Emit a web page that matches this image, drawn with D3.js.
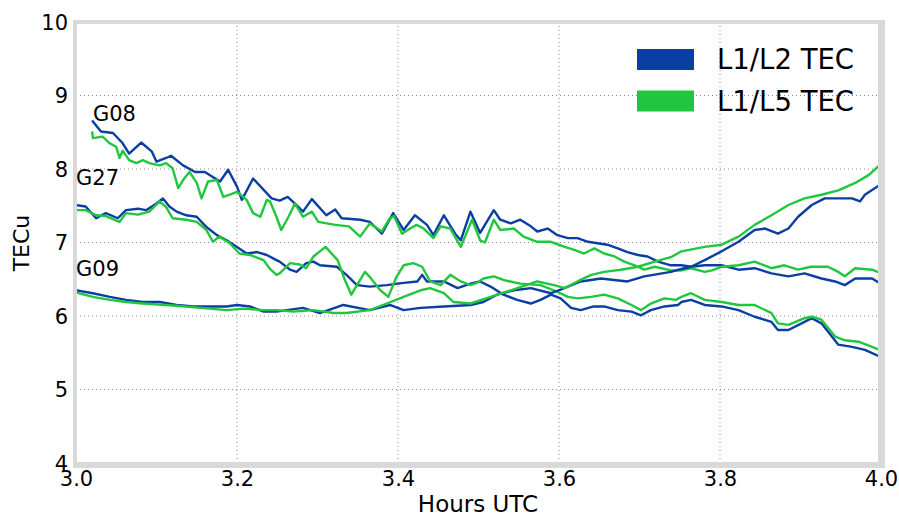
<!DOCTYPE html>
<html>
<head>
<meta charset="utf-8">
<script src="https://cdn.jsdelivr.net/npm/d3@7"></script>
<style>
  body { margin: 0; background: #fff; }
  svg { display: block; font-family: "DejaVu Sans", sans-serif; }
</style>
</head>
<body>
<div id="chart"></div>
<script>
// values: [hours UTC, TECu]
var g08L2 = [[3.020,8.66],[3.031,8.51],[3.046,8.49],[3.058,8.35],[3.066,8.21],[3.081,8.36],[3.094,8.24],[3.100,8.10],[3.112,8.15],[3.118,8.18],[3.133,8.05],[3.148,7.96],[3.160,7.96],[3.179,7.83],[3.189,7.99],[3.200,7.76],[3.206,7.58],[3.220,7.87],[3.243,7.60],[3.253,7.57],[3.263,7.62],[3.272,7.53],[3.282,7.42],[3.293,7.59],[3.311,7.37],[3.322,7.45],[3.330,7.33],[3.353,7.31],[3.365,7.28],[3.380,7.12],[3.394,7.40],[3.407,7.17],[3.421,7.37],[3.436,7.24],[3.444,7.10],[3.457,7.37],[3.471,7.12],[3.478,7.03],[3.490,7.42],[3.502,7.13],[3.519,7.44],[3.527,7.31],[3.540,7.26],[3.552,7.31],[3.565,7.22],[3.573,7.15],[3.586,7.19],[3.598,7.10],[3.611,7.06],[3.623,7.06],[3.636,7.01],[3.648,6.99],[3.660,6.97],[3.673,6.92],[3.685,6.87],[3.698,6.83],[3.710,6.81],[3.723,6.74],[3.739,6.69],[3.752,6.69],[3.764,6.67],[3.781,6.69],[3.802,6.69],[3.823,6.63],[3.843,6.65],[3.864,6.58],[3.885,6.54],[3.905,6.58],[3.926,6.51],[3.943,6.47],[3.955,6.42],[3.968,6.51],[3.989,6.51],[3.998,6.45]];
var g08L5 = [[3.020,8.51],[3.021,8.42],[3.033,8.44],[3.042,8.35],[3.050,8.30],[3.054,8.15],[3.058,8.25],[3.066,8.12],[3.075,8.08],[3.083,8.12],[3.091,8.08],[3.104,8.05],[3.112,8.08],[3.120,8.01],[3.127,7.74],[3.133,7.85],[3.141,7.96],[3.150,7.81],[3.156,7.60],[3.164,7.83],[3.175,7.85],[3.183,7.62],[3.191,7.65],[3.200,7.69],[3.212,7.58],[3.220,7.40],[3.229,7.35],[3.237,7.58],[3.241,7.56],[3.249,7.35],[3.255,7.17],[3.264,7.35],[3.272,7.53],[3.282,7.35],[3.293,7.42],[3.301,7.28],[3.322,7.24],[3.339,7.22],[3.353,7.08],[3.365,7.26],[3.380,7.15],[3.390,7.33],[3.395,7.36],[3.405,7.12],[3.415,7.19],[3.423,7.24],[3.432,7.19],[3.444,7.06],[3.453,7.22],[3.465,7.19],[3.478,6.94],[3.492,7.31],[3.502,7.03],[3.508,7.00],[3.519,7.31],[3.527,7.17],[3.544,7.19],[3.556,7.08],[3.573,7.01],[3.590,7.01],[3.607,6.94],[3.619,6.90],[3.631,6.85],[3.644,6.92],[3.656,6.85],[3.669,6.81],[3.681,6.74],[3.694,6.69],[3.706,6.63],[3.719,6.67],[3.739,6.62],[3.752,6.62],[3.764,6.65],[3.781,6.60],[3.790,6.62],[3.802,6.67],[3.823,6.69],[3.843,6.74],[3.864,6.65],[3.880,6.69],[3.897,6.63],[3.913,6.67],[3.934,6.67],[3.947,6.60],[3.955,6.54],[3.968,6.65],[3.989,6.63],[3.998,6.59]];
var g27L2 = [[3.000,7.51],[3.012,7.49],[3.025,7.33],[3.037,7.40],[3.052,7.33],[3.062,7.44],[3.077,7.46],[3.087,7.44],[3.100,7.53],[3.108,7.60],[3.116,7.49],[3.125,7.42],[3.137,7.37],[3.150,7.35],[3.162,7.21],[3.175,7.10],[3.187,7.03],[3.200,6.94],[3.212,6.85],[3.225,6.87],[3.237,6.83],[3.249,6.76],[3.253,6.74],[3.266,6.63],[3.274,6.60],[3.286,6.72],[3.295,6.74],[3.303,6.69],[3.324,6.67],[3.336,6.56],[3.349,6.42],[3.365,6.40],[3.386,6.42],[3.407,6.45],[3.424,6.47],[3.430,6.56],[3.436,6.47],[3.457,6.47],[3.474,6.38],[3.490,6.44],[3.502,6.47],[3.515,6.40],[3.531,6.29],[3.548,6.22],[3.565,6.17],[3.577,6.22],[3.590,6.29],[3.602,6.24],[3.615,6.11],[3.627,6.08],[3.643,6.13],[3.656,6.13],[3.673,6.08],[3.690,6.06],[3.702,6.01],[3.714,6.08],[3.731,6.13],[3.748,6.15],[3.752,6.19],[3.764,6.22],[3.781,6.15],[3.802,6.13],[3.823,6.08],[3.843,5.99],[3.864,5.92],[3.872,5.81],[3.885,5.81],[3.905,5.92],[3.914,5.97],[3.926,5.90],[3.939,5.72],[3.947,5.61],[3.964,5.58],[3.980,5.54],[3.998,5.45]];
var g27L5 = [[3.000,7.44],[3.012,7.44],[3.025,7.37],[3.037,7.36],[3.054,7.28],[3.062,7.40],[3.077,7.38],[3.091,7.42],[3.104,7.56],[3.112,7.48],[3.120,7.33],[3.137,7.31],[3.150,7.28],[3.162,7.17],[3.170,7.01],[3.178,7.08],[3.191,6.99],[3.203,6.85],[3.216,6.83],[3.233,6.76],[3.241,6.64],[3.249,6.56],[3.253,6.58],[3.266,6.72],[3.278,6.70],[3.286,6.65],[3.295,6.81],[3.310,6.94],[3.325,6.76],[3.334,6.49],[3.342,6.29],[3.353,6.49],[3.359,6.60],[3.365,6.53],[3.378,6.35],[3.388,6.26],[3.398,6.53],[3.407,6.69],[3.419,6.72],[3.430,6.67],[3.440,6.47],[3.453,6.42],[3.465,6.56],[3.478,6.47],[3.490,6.42],[3.498,6.45],[3.506,6.51],[3.519,6.54],[3.531,6.49],[3.552,6.44],[3.577,6.42],[3.598,6.33],[3.611,6.26],[3.623,6.24],[3.640,6.26],[3.656,6.29],[3.673,6.24],[3.690,6.15],[3.702,6.08],[3.714,6.17],[3.731,6.24],[3.745,6.22],[3.752,6.26],[3.764,6.31],[3.781,6.22],[3.802,6.19],[3.823,6.15],[3.843,6.15],[3.864,6.04],[3.872,5.90],[3.885,5.88],[3.905,5.97],[3.914,5.99],[3.926,5.95],[3.943,5.72],[3.955,5.67],[3.972,5.65],[3.989,5.58],[3.998,5.54]];
var g09L2 = [[3.000,6.35],[3.021,6.31],[3.042,6.26],[3.062,6.22],[3.083,6.19],[3.104,6.19],[3.125,6.15],[3.146,6.13],[3.187,6.13],[3.200,6.15],[3.216,6.13],[3.233,6.06],[3.249,6.06],[3.282,6.11],[3.303,6.04],[3.332,6.15],[3.365,6.08],[3.390,6.15],[3.407,6.08],[3.428,6.11],[3.457,6.13],[3.490,6.15],[3.506,6.19],[3.523,6.29],[3.544,6.35],[3.565,6.38],[3.590,6.31],[3.602,6.36],[3.627,6.47],[3.652,6.51],[3.685,6.47],[3.706,6.54],[3.739,6.60],[3.752,6.64],[3.764,6.67],[3.781,6.76],[3.802,6.88],[3.823,7.01],[3.843,7.17],[3.856,7.19],[3.872,7.12],[3.885,7.19],[3.897,7.35],[3.914,7.51],[3.930,7.60],[3.947,7.60],[3.964,7.60],[3.974,7.56],[3.980,7.65],[3.998,7.78]];
var g09L5 = [[3.000,6.32],[3.021,6.26],[3.042,6.22],[3.062,6.19],[3.083,6.17],[3.125,6.14],[3.166,6.10],[3.187,6.08],[3.208,6.10],[3.233,6.08],[3.249,6.08],[3.270,6.06],[3.295,6.08],[3.320,6.04],[3.336,6.04],[3.365,6.08],[3.386,6.17],[3.407,6.26],[3.428,6.35],[3.440,6.38],[3.457,6.31],[3.469,6.19],[3.490,6.17],[3.515,6.26],[3.540,6.35],[3.573,6.47],[3.594,6.42],[3.607,6.38],[3.623,6.47],[3.640,6.56],[3.656,6.60],[3.677,6.63],[3.698,6.67],[3.719,6.74],[3.739,6.80],[3.752,6.88],[3.781,6.94],[3.802,6.97],[3.823,7.08],[3.843,7.24],[3.864,7.37],[3.885,7.51],[3.905,7.60],[3.926,7.65],[3.947,7.71],[3.968,7.81],[3.985,7.92],[3.998,8.05]];

var xTicks = [3.0, 3.2, 3.4, 3.6, 3.8, 4.0];
var yTicks = [4, 5, 6, 7, 8, 9, 10];
var satLabels = [
  {name: 'G08', x: 3.021, y: 8.65},
  {name: 'G27', x: 3.0, y: 7.78},
  {name: 'G09', x: 3.0, y: 6.55}
];
var legendNames = ['L1/L2 TEC', 'L1/L5 TEC'];

var blue = '#0b3ea3';
var green = '#20c73e';

var width = 899,
    height = 517;

var svg = d3.select('#chart')
  .append('svg')
    .attr('width', width)
    .attr('height', height);

var x = d3.scaleLinear().domain([3, 4]).range([76, 881]);
var y = d3.scaleLinear().domain([4, 10]).range([463, 22]);

// grey frame round the plot area
svg.append('rect')
  .attr('x', 73).attr('y', 20)
  .attr('width', 812).attr('height', 448)
  .attr('fill', '#d9d9d9');
svg.append('rect')
  .attr('x', 77).attr('y', 24)
  .attr('width', 801).attr('height', 438)
  .attr('fill', '#fff');

svg.append('clipPath').attr('id', 'plot-clip')
  .append('rect')
    .attr('x', 77).attr('y', 24)
    .attr('width', 801).attr('height', 438);

// dotted grid
var grid = svg.append('g').attr('clip-path', 'url(#plot-clip)');
grid.selectAll('line.vx')
  .data(xTicks)
  .enter().append('line')
    .attr('x1', function(d) { return x(d); })
    .attr('x2', function(d) { return x(d); })
    .attr('y1', y(10)).attr('y2', y(4))
    .attr('stroke', '#8a8a8a')
    .attr('stroke-width', 1)
    .attr('stroke-dasharray', '1,3');
grid.selectAll('line.hy')
  .data(yTicks)
  .enter().append('line')
    .attr('y1', function(d) { return y(d); })
    .attr('y2', function(d) { return y(d); })
    .attr('x1', x(3)).attr('x2', x(4))
    .attr('stroke', '#8a8a8a')
    .attr('stroke-width', 1)
    .attr('stroke-dasharray', '1,3');

// tick labels through the axis generators, with no domain or tick lines
var xAxis = svg.append('g')
  .attr('transform', 'translate(0,463)')
  .call(d3.axisBottom(x).tickValues(xTicks).tickFormat(d3.format('.1f')).tickSize(0).tickPadding(8));
var yAxis = svg.append('g')
  .attr('transform', 'translate(76,0)')
  .call(d3.axisLeft(y).tickValues(yTicks).tickFormat(d3.format('d')).tickSize(0).tickPadding(8));
[xAxis, yAxis].forEach(function(ax) {
  ax.select('.domain').remove();
  ax.selectAll('text')
    .attr('fill', '#000')
    .style('font-family', '"DejaVu Sans", sans-serif')
    .style('font-size', '21px');
});
xAxis.selectAll('text').attr('dy', '0.71em').attr('y', 8);
yAxis.selectAll('text').attr('dy', '0.35em');

// series
var line = d3.line()
  .x(function(d) { return x(d[0]); })
  .y(function(d) { return y(d[1]); });

var series = [
  {data: g08L2, color: blue}, {data: g08L5, color: green},
  {data: g27L2, color: blue}, {data: g27L5, color: green},
  {data: g09L2, color: blue}, {data: g09L5, color: green}
];
var lines = svg.append('g').attr('clip-path', 'url(#plot-clip)');
series.forEach(function(s) {
  lines.append('path')
    .datum(s.data)
    .attr('fill', 'none')
    .attr('stroke', s.color)
    .attr('stroke-width', 2.4)
    .attr('stroke-linejoin', 'round')
    .attr('d', line);
});

// satellite names
svg.selectAll('text.sat')
  .data(satLabels)
  .enter().append('text')
    .attr('class', 'sat')
    .attr('x', function(d) { return x(d.x); })
    .attr('y', function(d) { return y(d.y); })
    .attr('font-size', 21)
    .attr('fill', '#000')
    .text(function(d) { return d.name; });

// legend
var legend = svg.append('g').attr('transform', 'translate(637,49)');
legendNames.forEach(function(name, i) {
  legend.append('rect')
    .attr('x', 0).attr('y', i * 41.5)
    .attr('width', 57).attr('height', 21)
    .attr('fill', i === 0 ? blue : green);
  legend.append('text')
    .attr('x', 80).attr('y', i * 41.5 + 20)
    .attr('font-size', 27.5)
    .attr('fill', '#000')
    .text(name);
});

// axis titles
svg.append('text')
  .attr('x', 478).attr('y', 512)
  .attr('text-anchor', 'middle')
  .attr('font-size', 23)
  .attr('fill', '#000')
  .text('Hours UTC');
svg.append('text')
  .attr('transform', 'translate(29,243) rotate(-90)')
  .attr('text-anchor', 'middle')
  .attr('font-size', 22)
  .attr('fill', '#000')
  .text('TECu');
</script>
</body>
</html>
